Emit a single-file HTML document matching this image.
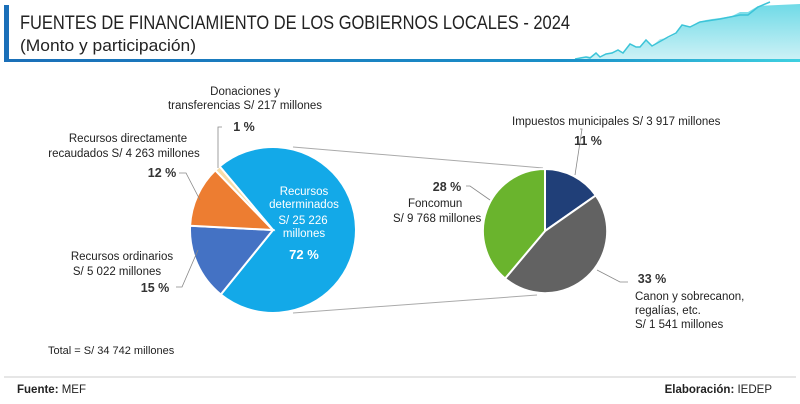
<!DOCTYPE html>
<html><head><meta charset="utf-8"><style>
html,body{margin:0;padding:0;background:#fff;}
svg{display:block;font-family:"Liberation Sans",sans-serif;}
</style></head><body>
<svg width="800" height="404" viewBox="0 0 800 404" xmlns="http://www.w3.org/2000/svg">
<defs>
<linearGradient id="bl" x1="0" x2="1"><stop offset="0" stop-color="#1a6fb8"/><stop offset="0.7" stop-color="#1a8fc8"/><stop offset="1" stop-color="#3fd0e0"/></linearGradient>
<linearGradient id="mt" x1="0" y1="0" x2="0" y2="1"><stop offset="0" stop-color="#5fd6e4"/><stop offset="1" stop-color="#c8f0f5"/></linearGradient>
</defs>
<rect x="4" y="5" width="5" height="55" fill="#1a6fb8"/>
<path d="M575,60 L580,57 588,56 592,57 596,52 600,57 606,54 612,52 618,50 623,53 630,44 636,47 640,47 646,41 652,46 660,39 668,38 676,34 682,26 690,27 698,22 706,20 712,19 720,18 732,16 740,12 748,12 758,6 800,4 800,60 Z" fill="url(#mt)" opacity="0.9"/>
<polyline points="575,59 586,57 590,58 596,53 600,57 606,54 612,53 618,50 623,53 630,44 636,47 640,47 646,40 652,46 668,37 676,33 682,25 690,27 700,22 720,19 740,15 748,15 758,7 770,2" fill="none" stroke="#3cc4d8" stroke-width="1.5"/>
<rect x="4" y="59" width="796" height="3" fill="url(#bl)"/>
<text x="20" y="29" font-size="19.5" fill="#222" textLength="550" lengthAdjust="spacingAndGlyphs">FUENTES DE FINANCIAMIENTO DE LOS GOBIERNOS LOCALES - 2024</text>
<text x="20" y="51" font-size="17" fill="#222" textLength="176" lengthAdjust="spacingAndGlyphs">(Monto y participación)</text>

<line x1="293" y1="147" x2="543" y2="168" stroke="#aaa" stroke-width="1"/>
<line x1="293" y1="313" x2="537" y2="295" stroke="#aaa" stroke-width="1"/>

<g stroke="#fff" stroke-width="2">
<path d="M273,230 L219.6,166.4 A83,83 0 1 1 220.8,294.5 Z" fill="#13a9e8"/>
<path d="M273,230 L220.8,294.5 A83,83 0 0 1 190.1,225.7 Z" fill="#4472c4"/>
<path d="M273,230 L190.1,225.7 A83,83 0 0 1 215.3,170.3 Z" fill="#ed7d31"/>
<path d="M273,230 L215.3,170.3 A83,83 0 0 1 219.6,166.4 Z" fill="#f7dca8"/>
</g>
<g stroke="#fff" stroke-width="2">
<path d="M545,231 L545,169 A62,62 0 0 1 595.8,195.4 Z" fill="#203f78"/>
<path d="M545,231 L595.8,195.4 A62,62 0 0 1 505.1,278.5 Z" fill="#626262"/>
<path d="M545,231 L505.1,278.5 A62,62 0 0 1 545,169 Z" fill="#6ab42d"/>
</g>

<g stroke="#888" fill="none" stroke-width="0.8">
<polyline points="222,127 218,127 218,168"/>
<polyline points="179,173 186,173 200,200"/>
<polyline points="176,287 182,287 198,250"/>
<polyline points="580,129 582,129 575,175"/>
<polyline points="466,186 470,186 490,200"/>
<polyline points="597,270 620,282 628,282"/>
</g>

<g font-size="11.5" fill="#222" text-anchor="middle">
<text x="245" y="95">Donaciones y</text>
<text x="245" y="109">transferencias S/ 217 millones</text>
<text x="128" y="142">Recursos directamente</text>
<text x="124" y="157">recaudados S/ 4 263 millones</text>
<text x="122" y="260">Recursos ordinarios</text>
<text x="117" y="275">S/ 5 022 millones</text>
</g>
<g font-size="12.5" fill="#333" font-weight="bold" text-anchor="middle">
<text x="244" y="131">1 %</text>
<text x="162" y="177">12 %</text>
<text x="155" y="292">15 %</text>
<text x="588" y="145">11 %</text>
<text x="447" y="191">28 %</text>
<text x="652" y="283">33 %</text>
</g>
<g font-size="11.5" fill="#fff" text-anchor="middle">
<text x="304" y="195">Recursos</text>
<text x="304" y="208">determinados</text>
<text x="303" y="224">S/ 25 226</text>
<text x="304" y="237">millones</text>
<text x="304" y="259" font-weight="bold" font-size="13">72 %</text>
</g>
<g font-size="11.5" fill="#222">
<text x="512" y="125">Impuestos municipales S/ 3 917 millones</text>
<text x="408" y="207">Foncomun</text>
<text x="393" y="222">S/ 9 768 millones</text>
<text x="635" y="300">Canon y sobrecanon,</text>
<text x="635" y="314">regalías, etc.</text>
<text x="635" y="328">S/ 1 541 millones</text>
<text x="48" y="354" font-size="11">Total = S/ 34 742 millones</text>
</g>
<line x1="4" y1="377" x2="796" y2="377" stroke="#ccc" stroke-width="1"/>
<text x="17" y="393" font-size="11.5" fill="#222"><tspan font-weight="bold">Fuente:</tspan> MEF</text>
<text x="772" y="393" font-size="11.5" fill="#222" text-anchor="end"><tspan font-weight="bold">Elaboración:</tspan> IEDEP</text>
</svg>
</body></html>
